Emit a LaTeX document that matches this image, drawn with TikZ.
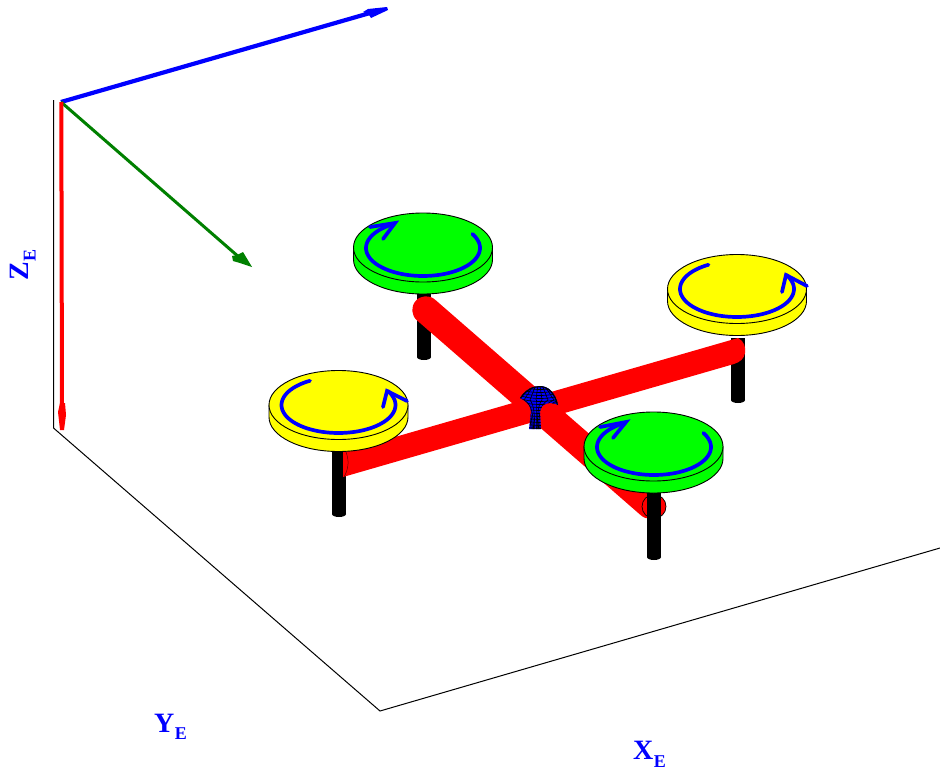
\documentclass[tikz,border=0pt]{standalone}
\usepackage{fontspec}
\setmainfont{Liberation Serif}
\definecolor{puregreen}{RGB}{0,255,0}
\definecolor{pureyellow}{RGB}{255,255,0}
\definecolor{purered}{RGB}{255,0,0}
\definecolor{pureblue}{RGB}{0,0,255}
\definecolor{axisgreen}{RGB}{0,128,0}
\newcommand{\axislabel}[1]{\fontsize{28}{28}\selectfont\bfseries #1\kern0.5pt\raisebox{-7.5pt}{\fontsize{18}{18}\selectfont\bfseries E}}
% disc: centre x, centre y, colour
\newcommand{\rotordisc}[3]{%
  \fill[#3,draw=black,line width=0.9pt] (#1-69.5,#2) -- (#1-69.5,#2+12) arc[start angle=180,end angle=360,x radius=69.5,y radius=-34.5] -- (#1+69.5,#2) -- cycle;
  \fill[#3,draw=black,line width=0.9pt] (#1,#2) ellipse[x radius=69.5,y radius=34.5];
}
% spin arrow: centre x, centre y
\newcommand{\spinarc}[2]{%
  \draw[spinline] plot[domain=-30:240,samples=70] ({#1+57*cos(\x)},{#2+28*sin(\x)});
}
% post: centre x, top y, bottom y
\newcommand{\postbar}[3]{%
  \fill[black] (#1-7,#2) rectangle (#1+7,#3);
  \fill[black] (#1,#3) ellipse[x radius=7,y radius=3];
}
\tikzset{
  floorline/.style={draw=black,line width=1pt},
  spinline/.style={draw=pureblue,line width=3.7pt,line cap=round,line join=miter},
  arm/.style={fill=purered},
  meshline/.style={draw=black,line width=0.65pt},
  axistext/.style={text=pureblue,inner sep=0pt,anchor=base west}
}
\begin{document}
\begin{tikzpicture}[x=1pt,y=-1pt]
\useasboundingbox (0,0) rectangle (940,771);
\fill[white] (0,0) rectangle (940,771);
% floor frame
\draw[floorline] (53.5,100) -- (53.5,428) -- (380,711) -- (940,548);
% axes
\draw[draw=pureblue,line width=4.2pt] (61,102) -- (370,13);
\fill[pureblue] (387,7) -- (388,10) -- (371,18) -- (369,15) -- (363,12) -- (368,9) -- cycle;
\draw[draw=axisgreen,line width=3pt] (61,102) -- (240,258);
\fill[axisgreen] (252,267) -- (243,252) -- (237,255) -- (232,256) -- (233,261) -- (240,263) -- cycle;
\draw[draw=purered,line width=4pt] (61.3,102) -- (62,415);
\fill[purered] (60,430) -- (64,430) -- (66,415) -- (65,403) -- (60,403) -- (58,412) -- cycle;
% posts behind the arms
\postbar{424}{294}{357}
\postbar{339}{448}{514}
\postbar{738}{338}{400}
% arms
\draw[draw=purered,line width=27.5pt,line cap=round] (426,310) -- (650,505);
\fill[arm] (343,452) -- (738,338) .. controls (744,341) and (746,347) .. (745,353) .. controls (744,359) and (740,362) .. (734,364) -- (343,477) -- cycle;
\draw[draw=black!60!purered,line width=0.5pt] (346,452) .. controls (349,460) and (349,468) .. (344,477);
\fill[arm,draw=black,line width=0.7pt] (654,506.5) ellipse[x radius=12,y radius=12];
% hub
\begin{scope}
  \path[clip] (520,398) .. controls (526,389) and (533,386) .. (540,386)
    .. controls (549,386) and (556,394) .. (558,405)
    .. controls (550,401) and (541,403) .. (540,412)
    -- (541,429) -- (529,429) -- (531,412)
    .. controls (531,405) and (526,401) .. (520,398) -- cycle;
  \fill[pureblue] (515,380) rectangle (565,435);
  \foreach \yy in {389,392,...,429} {
    \draw[meshline] (515,\yy-4) .. controls (530,\yy+2) and (550,\yy+2) .. (565,\yy-4);
  }
  \foreach \xx in {-24,-18,...,24} {
    \draw[meshline] (536+\xx,400) .. controls (536+0.3*\xx,405) and (536+0.25*\xx,415) .. (536+0.2*\xx,430);
    \draw[meshline] (536+\xx,400) -- (538+0.3*\xx,384);
  }
  \draw[draw=black,line width=2.4pt] (520,398) .. controls (526,389) and (533,386) .. (540,386) .. controls (549,386) and (556,394) .. (558,405);
\end{scope}
% front post
\postbar{654}{490}{557}
% rotor discs
\rotordisc{423}{247.5}{puregreen}
\rotordisc{653.5}{446.5}{puregreen}
\rotordisc{338.5}{405}{pureyellow}
\rotordisc{737}{289}{pureyellow}
% spin arrows
\spinarc{423}{248}
\draw[spinline] (370,227) -- (395,223) -- (383,239);
\spinarc{654}{447}
\draw[spinline] (600,427) -- (626,422) -- (613,438);
\spinarc{338.5}{405}
\draw[spinline] (383,407) -- (387,391) -- (407,401);
\spinarc{737}{289}
\draw[spinline] (782,292) -- (786,275) -- (807,286);
% labels
\node[axistext] (xlabel) at (633,759.5) {\axislabel{X}};
\node[axistext] (ylabel) at (154,732) {\axislabel{Y}};
\node[axistext,rotate=90] (zlabel) at (28,281) {\axislabel{Z}};
\end{tikzpicture}
\end{document}
